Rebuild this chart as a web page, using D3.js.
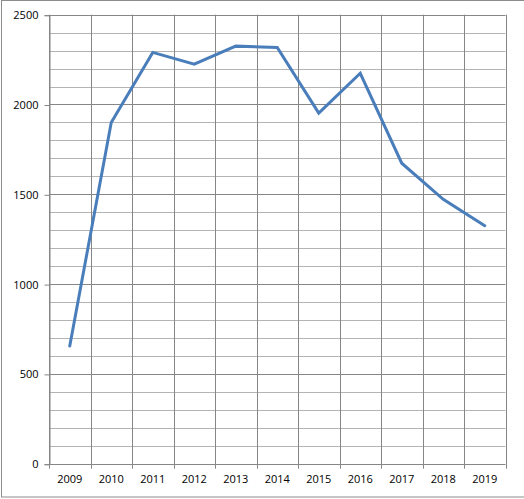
<!DOCTYPE html>
<html><head><meta charset="utf-8">
<script src="https://cdn.jsdelivr.net/npm/d3@7"></script>
<style>body{margin:0;background:#fff}svg{display:block}</style>
</head><body>
<script>
const categories = ["2009","2010","2011","2012","2013","2014","2015","2016","2017","2018","2019"];
const values = [655, 1900, 2290, 2225, 2325, 2318, 1952, 2174, 1673, 1472, 1325];
const yTicks = [0, 500, 1000, 1500, 2000, 2500];
const yMinor = d3.range(0, 2501, 100);

const W = 524, H = 499;
const L = 49, R = 505.5, T = 14.7, B = 463.7;
const svg = d3.select("body").append("svg").attr("width", W).attr("height", H);

// outer frame
svg.append("rect").attr("x", 1.5).attr("y", 0.5).attr("width", 540).attr("height", 496.5)
  .attr("fill", "#fff").attr("stroke", "#8c8c8c").attr("stroke-width", 1);

const x = d3.scaleBand().domain(categories).range([L, R]).padding(0);
const y = d3.scaleLinear().domain([0, 2500]).range([B, T]);

// minor horizontal gridlines
svg.append("g").selectAll("line").data(yMinor.filter(v => v % 500 !== 0)).join("line")
  .attr("x1", L).attr("x2", R).attr("y1", d => Math.round(y(d)) + 0.5).attr("y2", d => Math.round(y(d)) + 0.5)
  .attr("stroke", "#b4b4b4").attr("stroke-width", 1);
// major horizontal gridlines
svg.append("g").selectAll("line").data(yTicks).join("line")
  .attr("x1", L).attr("x2", R).attr("y1", d => Math.round(y(d)) + 0.5).attr("y2", d => Math.round(y(d)) + 0.5)
  .attr("stroke", "#868686").attr("stroke-width", 1);
// vertical gridlines at category boundaries
const bounds = categories.map(c => x(c)).concat([R]);
svg.append("g").selectAll("line").data(bounds).join("line")
  .attr("x1", d => Math.round(d) + 0.5).attr("x2", d => Math.round(d) + 0.5)
  .attr("y1", T).attr("y2", B + 5)
  .attr("stroke", "#868686").attr("stroke-width", 1);

// y axis
const yAxis = d3.axisLeft(y).tickValues(yTicks).tickSize(5).tickPadding(6).tickFormat(d3.format("d"));
const ga = svg.append("g").attr("transform", `translate(${Math.round(L)+0.5},0.5)`).call(yAxis);
ga.select(".domain").attr("stroke", "#868686");
ga.selectAll(".tick line").attr("stroke", "#868686");
ga.selectAll("text").attr("font-family", "Open Sans, DejaVu Sans, sans-serif").attr("font-size", 11).attr("fill", "#000");

// x axis labels
const xAxis = d3.axisBottom(x).tickSize(0).tickPadding(12);
const gx = svg.append("g").attr("transform", `translate(0,${B})`).call(xAxis);
gx.select(".domain").remove();
gx.selectAll("text").attr("font-family", "Open Sans, DejaVu Sans, sans-serif").attr("font-size", 11).attr("fill", "#000");

// line
const line = d3.line().x((d, i) => x(categories[i]) + x.bandwidth() / 2).y(d => y(d));
svg.append("path").datum(values).attr("d", line)
  .attr("fill", "none").attr("stroke", "#4a7ebb").attr("stroke-width", 3)
  .attr("stroke-linejoin", "miter").attr("stroke-linecap", "round");
</script>
</body></html>
